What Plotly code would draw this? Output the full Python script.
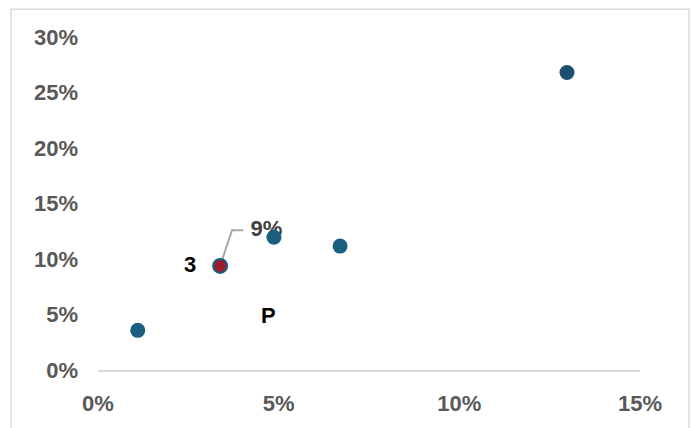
import plotly.graph_objects as go

# data (percent)
x_vals = [1.1, 4.87, 6.7, 12.98]
y_vals = [3.57, 11.96, 11.16, 26.8]
pt_colors = ["#1a5e80", "#1a5e80", "#1a5e80", "#1f4f6e"]

hl_x = [3.38]
hl_y = [9.38]

leader_x = [3.38, 3.71, 4.02]
leader_y = [9.38, 12.6, 12.6]

label_9 = {"text": "9%", "x": 4.66, "y": 12.6}
label_3 = {"text": "3", "x": 2.55, "y": 9.55}
label_p = {"text": "P", "x": 4.71, "y": 4.91}

x_ticks = [0, 5, 10, 15]
x_ticktext = ["0%", "5%", "10%", "15%"]
y_ticks = [0, 5, 10, 15, 20, 25, 30]
y_ticktext = ["0%", "5%", "10%", "15%", "20%", "25%", "30%"]

FONT = "Liberation Sans"
FS = 22

fig = go.Figure()
fig.add_trace(go.Scatter(x=leader_x, y=leader_y, mode="lines",
                         line=dict(color="#a6a6a6", width=2), hoverinfo="skip",
                         showlegend=False))
# "9%" label drawn beneath the markers (as in the reference)
fig.add_trace(go.Scatter(x=[label_9["x"]], y=[label_9["y"]], mode="text",
                         text=[label_9["text"]], textposition="middle center",
                         textfont=dict(family=FONT, size=FS, color="#404040", weight="bold"),
                         hoverinfo="skip", showlegend=False))
fig.add_trace(go.Scatter(x=x_vals, y=y_vals, mode="markers",
                         marker=dict(size=15, color=pt_colors, line=dict(width=0)),
                         showlegend=False))
fig.add_trace(go.Scatter(x=hl_x, y=hl_y, mode="markers",
                         marker=dict(size=14, color="#9c1c2c",
                                     line=dict(width=2, color="#1a5e80")),
                         showlegend=False))

for lab in [label_3, label_p]:
    fig.add_annotation(x=lab["x"], y=lab["y"], text=lab["text"], showarrow=False,
                       font=dict(family=FONT, size=FS, color="#000000", weight="bold"),
                       xanchor="center", yanchor="middle")

L, R, T, B = 98, 55, 37, 55
W, H = 695, 428
pw, ph = W - L - R, H - T - B
fig.add_shape(type="rect", xref="paper", yref="paper",
              x0=(11 - L) / pw, x1=(689 - L) / pw,
              y0=(H - B - 460) / ph, y1=(H - B - 9) / ph,
              line=dict(color="#d9d9d9", width=1.5), fillcolor="rgba(0,0,0,0)",
              layer="below")

fig.update_layout(
    width=W, height=H,
    margin=dict(l=L, r=R, t=T, b=B),
    paper_bgcolor="white", plot_bgcolor="white",
    font=dict(family=FONT, size=FS, color="#595959", weight="bold"),
    showlegend=False,
    xaxis=dict(range=[0, 15], tickvals=x_ticks, ticktext=x_ticktext,
               showgrid=False, zeroline=False, showline=True,
               linecolor="#d9d9d9", linewidth=1.5, ticks="",
               ticklabelstandoff=13, fixedrange=True,
               tickfont=dict(family=FONT, size=FS, color="#595959", weight="bold")),
    yaxis=dict(range=[0, 30], tickvals=y_ticks, ticktext=y_ticktext,
               showgrid=False, zeroline=False, showline=False, ticks="",
               ticklabelstandoff=19, fixedrange=True,
               tickfont=dict(family=FONT, size=FS, color="#595959", weight="bold")),
)

fig.write_html("out.html")
